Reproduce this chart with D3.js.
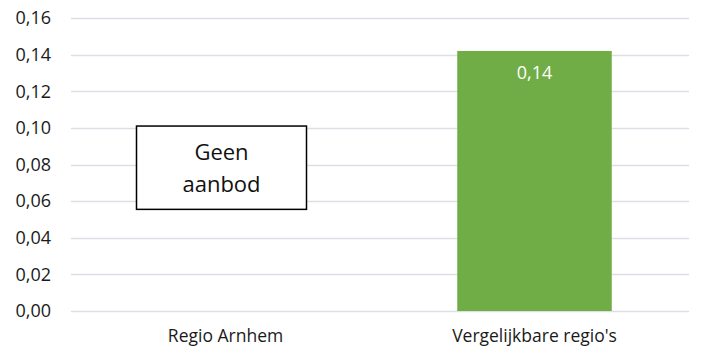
<!DOCTYPE html>
<html>
<head>
<meta charset="utf-8">
<script src="https://cdn.jsdelivr.net/npm/d3@7"></script>
<style>
  html, body { margin: 0; padding: 0; background: #fff; }
  svg { display: block; }
  text { font-family: "Open Sans", "Liberation Sans", sans-serif; }
</style>
</head>
<body>
<svg id="chart" width="710" height="361"></svg>
<script>
// Chart data
const categories = ["Regio Arnhem", "Vergelijkbare regio's"];
const values = [null, 0.142];               // null: no supply in this region
const yTicks = [0, 0.02, 0.04, 0.06, 0.08, 0.10, 0.12, 0.14, 0.16];
const noteLines = ["Geen", "aanbod"];
const noteRange = [0.0555, 0.101];          // vertical extent of the note box
const barColor = "#70ad47";

const width = 710, height = 361;
const margin = { top: 18, right: 21, bottom: 50, left: 71 };

const svg = d3.select("#chart");
const fmt = v => d3.format(".2f")(v).replace(".", ",");

const x = d3.scaleBand()
  .domain(categories)
  .range([margin.left, width - margin.right])
  .paddingInner(0.5)
  .paddingOuter(0.25);

const y = d3.scaleLinear()
  .domain([0, 0.16])
  .range([height - margin.bottom, margin.top]);

// Horizontal gridlines
svg.append("g")
  .selectAll("line")
  .data(yTicks)
  .join("line")
  .attr("x1", margin.left)
  .attr("x2", width - margin.right)
  .attr("y1", d => Math.round(y(d)) + 0.5)
  .attr("y2", d => Math.round(y(d)) + 0.5)
  .attr("stroke", "#dcdfe6")
  .attr("stroke-width", 1.3);

// Y axis labels
const yAxis = d3.axisLeft(y)
  .tickValues(yTicks)
  .tickFormat(fmt)
  .tickSize(0)
  .tickPadding(20);
svg.append("g")
  .attr("transform", `translate(${margin.left},0)`)
  .call(yAxis)
  .call(g => g.select(".domain").remove())
  .call(g => g.selectAll("text")
    .attr("font-size", 18)
    .attr("fill", "#1a1a1a")
    .attr("font-family", "'Open Sans', sans-serif"));

// X axis labels
const xAxis = d3.axisBottom(x).tickSize(0).tickPadding(19);
svg.append("g")
  .attr("transform", `translate(0,${y(0)})`)
  .call(xAxis)
  .call(g => g.select(".domain").remove())
  .call(g => g.selectAll("text")
    .attr("font-size", 17.5)
    .attr("fill", "#1a1a1a")
    .attr("font-family", "'Open Sans', sans-serif"));

// Bars
const barData = categories.map((c, i) => ({ c, v: values[i] })).filter(d => d.v != null);
svg.append("g")
  .selectAll("rect")
  .data(barData)
  .join("rect")
  .attr("x", d => x(d.c))
  .attr("width", x.bandwidth())
  .attr("y", d => y(d.v))
  .attr("height", d => y(0) - y(d.v))
  .attr("fill", barColor);

// Value labels inside bars
svg.append("g")
  .selectAll("text")
  .data(barData)
  .join("text")
  .attr("x", d => x(d.c) + x.bandwidth() / 2)
  .attr("y", d => y(d.v) + 28)
  .attr("text-anchor", "middle")
  .attr("font-size", 18)
  .attr("fill", "#fff")
  .text(d => fmt(d.v));

// Note box for the category without supply
const noteCat = categories[values.findIndex(v => v == null)];
const cx = x(noteCat) + x.bandwidth() / 2 - 4;
const boxW = 170;
const note = svg.append("g");
note.append("rect")
  .attr("x", cx - boxW / 2)
  .attr("y", y(noteRange[1]))
  .attr("width", boxW)
  .attr("height", y(noteRange[0]) - y(noteRange[1]))
  .attr("fill", "#fff")
  .attr("stroke", "#000")
  .attr("stroke-width", 1.5);
const midY = (y(noteRange[0]) + y(noteRange[1])) / 2;
note.selectAll("text")
  .data(noteLines)
  .join("text")
  .attr("x", cx)
  .attr("y", (d, i) => midY + (i - 0.5) * 32)
  .attr("dy", "0.36em")
  .attr("text-anchor", "middle")
  .attr("font-size", 22)
  .attr("fill", "#111")
  .text(d => d);
</script>
</body>
</html>
